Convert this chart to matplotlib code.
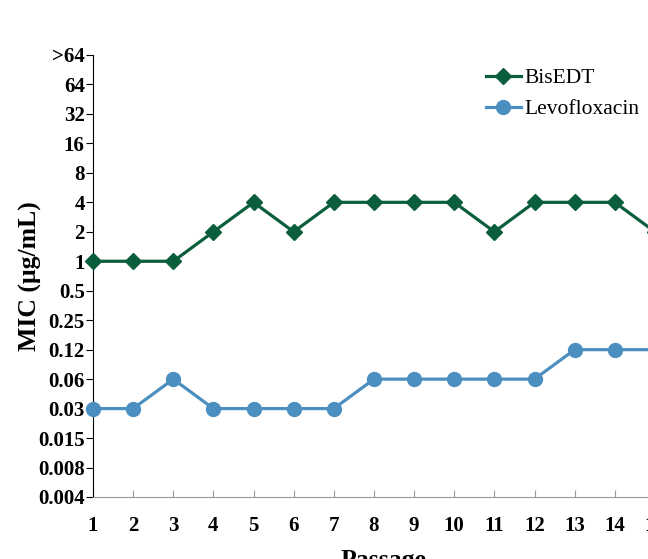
import matplotlib.pyplot as plt

passage = list(range(1, 16))
levels = ["0.004", "0.008", "0.015", "0.03", "0.06", "0.12", "0.25", "0.5",
          "1", "2", "4", "8", "16", "32", "64", ">64"]
bisedt = ["1", "1", "1", "2", "4", "2", "4", "4", "4", "4", "2", "4", "4", "4", "2"]
levo = ["0.03", "0.03", "0.06", "0.03", "0.03", "0.03", "0.03", "0.06", "0.06",
        "0.06", "0.06", "0.06", "0.12", "0.12", "0.12"]

bis_y = [levels.index(v) for v in bisedt]
levo_y = [levels.index(v) for v in levo]

plt.rcParams['font.family'] = ['Liberation Serif', 'DejaVu Serif']

fig = plt.figure(figsize=(6.48, 5.59), dpi=100)
W, H = 648, 559
# axes runs past the right edge on purpose (reference is cropped)
ax = fig.add_axes([93 / W, 1 - 497 / H, 582 / W, 442 / H])

ax.plot(passage, bis_y, color='#0b5e3c', lw=2.3, marker='D', ms=8.5,
        label='BisEDT', clip_on=False, zorder=3)
ax.plot(passage, levo_y, color='#4b8fc0', lw=2.3, marker='o', ms=10,
        label='Levofloxacin', clip_on=False, zorder=3)

ax.set_xlim(1, 15.5)
ax.set_ylim(0, 15)
ax.set_xticks(passage)
ax.set_xticklabels([str(p) for p in passage], fontsize=15, fontweight='bold')
ax.set_yticks(range(len(levels)))
ax.set_yticklabels(levels, fontsize=15, fontweight='bold')

for s in ['top', 'right']:
    ax.spines[s].set_visible(False)
ax.spines['left'].set_color('black')
ax.spines['bottom'].set_color('#999999')
ax.tick_params(axis='y', direction='out', length=5, color='black', pad=1)
ax.tick_params(axis='x', direction='in', length=5, color='#999999', pad=14)

ax.set_ylabel('MIC (μg/mL)', fontsize=18.5, fontweight='bold')
ax.yaxis.set_label_coords(-51 / 582, 0.5)
ax.set_xlabel('Passage', fontsize=18.5, fontweight='bold', labelpad=9)

ax.legend(loc='upper left', bbox_to_anchor=(382 / 582, 0.994), frameon=False,
          fontsize=15.5, borderpad=0, handlelength=1.63, handletextpad=0.15,
          labelspacing=0.5)

fig.savefig('out.png', dpi=100)
